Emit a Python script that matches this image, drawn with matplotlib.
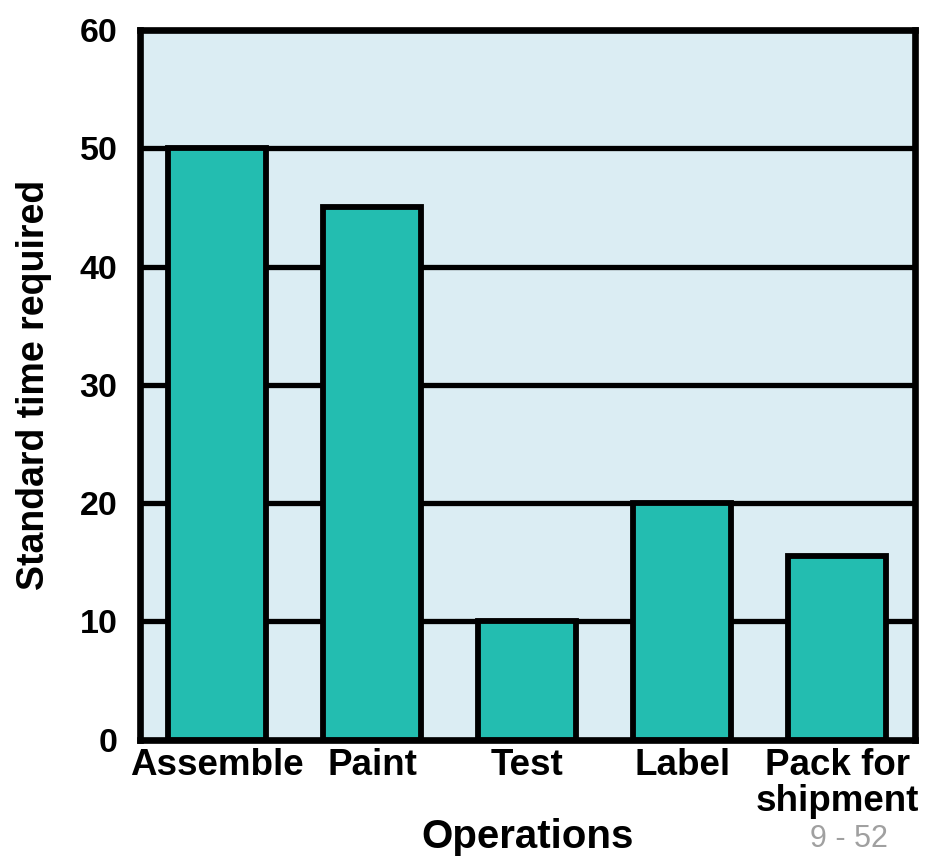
import matplotlib.pyplot as plt

operations = ['Assemble', 'Paint', 'Test', 'Label', 'Pack for\nshipment']
std_time = [50, 45, 10, 20, 15.5]
y_ticks = [0, 10, 20, 30, 40, 50, 60]

plt.rcParams['font.family'] = ['Liberation Sans', 'DejaVu Sans']
plt.rcParams['font.weight'] = 'bold'

fig = plt.figure(figsize=(9.38, 8.57), dpi=100)
ax = fig.add_axes([0.149, 0.137, 0.826, 0.828])
ax.set_facecolor('#dbedf3')

x = range(len(operations))
ax.bar(x, std_time, width=0.63, color='#23bdb0', edgecolor='black',
       linewidth=4.2, zorder=3)

ax.set_xlim(-0.5, len(operations) - 0.5)
ax.set_ylim(0, 60)
ax.set_yticks(y_ticks)
ax.set_xticks(list(x))
ax.set_xticklabels(operations, fontsize=26.5, fontweight='bold', linespacing=1.05)
ax.tick_params(axis='y', labelsize=24.5, length=0, pad=16)
ax.tick_params(axis='x', length=0, pad=6)
for lbl in ax.get_yticklabels():
    lbl.set_fontweight('bold')

# thick black gridlines
for v in y_ticks[1:-1]:
    ax.axhline(v, color='black', linewidth=3.8, zorder=1)

for sp in ax.spines.values():
    sp.set_linewidth(4.8)
    sp.set_color('black')

ax.set_ylabel('Standard time required', fontsize=27, fontweight='bold', labelpad=20)
ax.set_xlabel('Operations', fontsize=29, fontweight='bold', labelpad=-1)

fig.text(0.905, 0.004, '9 - 52', fontsize=22, color='#a0a0a0',
         ha='center', va='bottom', fontweight='normal')

fig.savefig('out.png', dpi=100)
